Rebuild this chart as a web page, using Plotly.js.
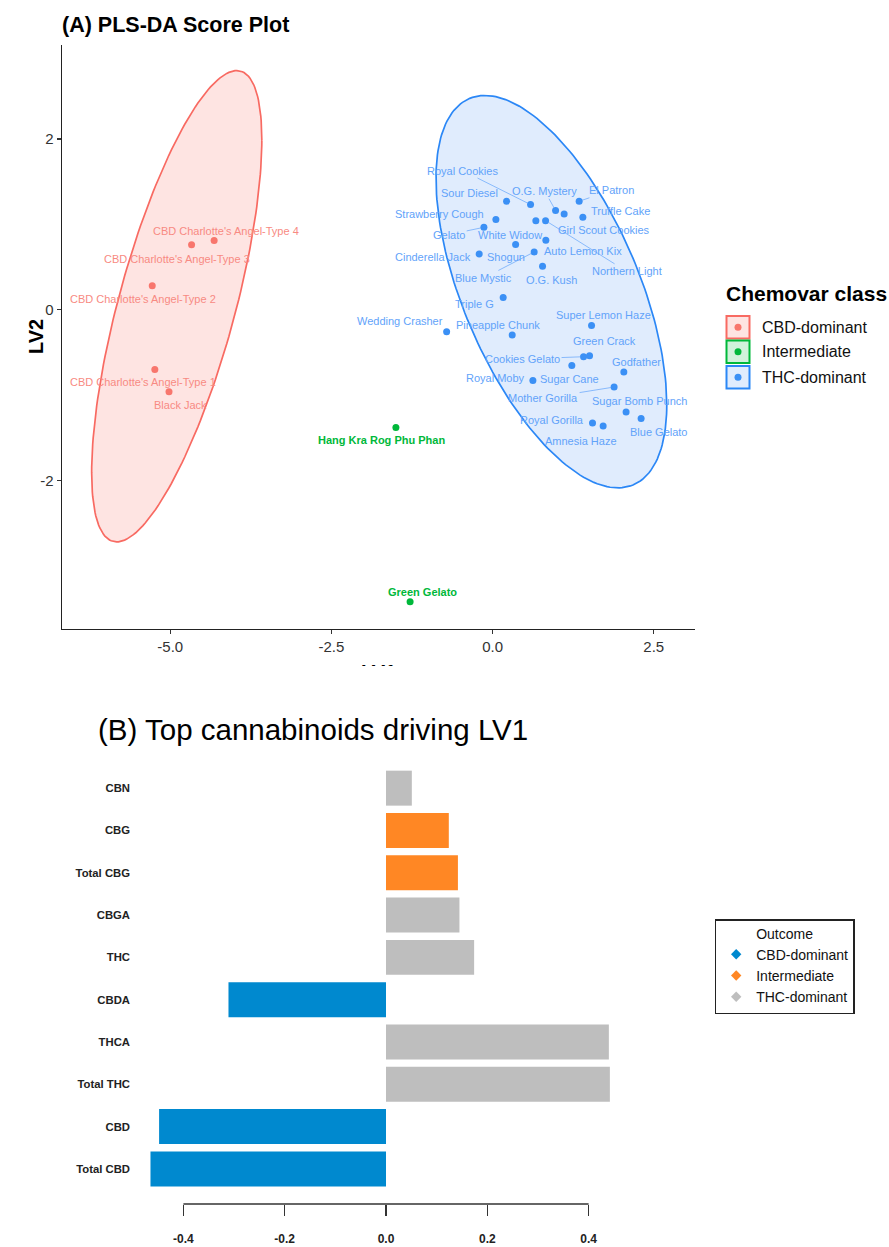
<!DOCTYPE html>
<html>
<head>
<meta charset="utf-8">
<script src="https://cdn.plot.ly/plotly-3.0.1.min.js"></script>
<style>
  html, body { margin: 0; padding: 0; background: #ffffff; }
  #wrap { width: 889px; height: 1247px; position: relative; overflow: hidden; }
  #plotA { width: 889px; height: 666px; position: absolute; left: 0; top: 0; }
  #plotB { width: 889px; height: 581px; position: absolute; left: 0; top: 666px; }
</style>
</head>
<body>
<div id="wrap"><div id="plotA"></div><div id="plotB"></div></div>
<script>
// ---------------- DATA: panel A (PLS-DA scores) ----------------
const sampleNames = [
  "CBD Charlotte's Angel-Type 4", "CBD Charlotte's Angel-Type 3", "CBD Charlotte's Angel-Type 2",
  "CBD Charlotte's Angel-Type 1", "Black Jack",
  "Hang Kra Rog Phu Phan", "Green Gelato",
  "Sour Diesel", "Royal Cookies", "O.G. Mystery", "Girl Scout Cookies", "El Patron", "Truffle Cake",
  "Strawberry Cough", "White Widow", "Northern Light", "Gelato", "Auto Lemon Kix", "Shogun",
  "Cinderella Jack", "Blue Mystic", "O.G. Kush", "Triple G", "Super Lemon Haze", "Wedding Crasher",
  "Pineapple Chunk", "Cookies Gelato", "Green Crack", "Sugar Cane", "Godfather", "Royal Moby",
  "Mother Gorilla", "Sugar Bomb Punch", "Blue Gelato", "Royal Gorilla", "Amnesia Haze"
];
const lv1Scores = [
  -4.32, -4.67, -5.28, -5.24, -5.02,
  -1.50, -1.28,
  0.217, 0.589, 0.977, 1.110, 1.343, 1.400,
  0.051, 0.671, 0.822, -0.135, 0.826, 0.357,
  -0.208, 0.645, 0.775, 0.164, 1.535, -0.713,
  0.304, 1.411, 1.504, 1.229, 2.036, 0.625,
  1.885, 2.071, 2.304, 1.550, 1.715
];
const lv2Scores = [
  0.81, 0.76, 0.28, -0.70, -0.96,
  -1.38, -3.42,
  1.270, 1.231, 1.161, 1.122, 1.270, 1.082,
  1.055, 1.043, 1.043, 0.965, 0.812, 0.762,
  0.653, 0.676, 0.508, 0.144, -0.184, -0.258,
  -0.297, -0.551, -0.539, -0.653, -0.730, -0.829,
  -0.906, -1.199, -1.274, -1.328, -1.363
];
const chemovarClass = [
  "CBD-dominant", "CBD-dominant", "CBD-dominant", "CBD-dominant", "CBD-dominant",
  "Intermediate", "Intermediate",
  "THC-dominant", "THC-dominant", "THC-dominant", "THC-dominant", "THC-dominant", "THC-dominant",
  "THC-dominant", "THC-dominant", "THC-dominant", "THC-dominant", "THC-dominant", "THC-dominant",
  "THC-dominant", "THC-dominant", "THC-dominant", "THC-dominant", "THC-dominant", "THC-dominant",
  "THC-dominant", "THC-dominant", "THC-dominant", "THC-dominant", "THC-dominant", "THC-dominant",
  "THC-dominant", "THC-dominant", "THC-dominant", "THC-dominant", "THC-dominant"
];
const classLevels = ["CBD-dominant", "Intermediate", "THC-dominant"];

// confidence ellipses: centre, spreads, correlation
const ellipseClass = ["CBD-dominant", "THC-dominant"];
const ellipseCx = [-4.90, 0.912];
const ellipseCy = [0.04, 0.211];
const ellipseSx = [1.32, 1.79];
const ellipseSy = [2.76, 2.298];
const ellipseR  = [0.705, -0.576];

const xTickVals = [-5, -2.5, 0, 2.5];
const xTickText = ["-5.0", "-2.5", "0.0", "2.5"];
const yTickVals = [-2, 0, 2];
const yTickText = ["-2", "0", "2"];

// ---------------- DATA: panel B (loadings) ----------------
const cannabinoids = ["Total CBD", "CBD", "Total THC", "THCA", "CBDA", "THC", "CBGA", "Total CBG", "CBG", "CBN"];
const lv1Loadings  = [-0.465, -0.448, 0.442, 0.440, -0.311, 0.174, 0.145, 0.142, 0.124, 0.051];
const outcomeClass = ["CBD-dominant", "CBD-dominant", "THC-dominant", "THC-dominant", "CBD-dominant",
                      "THC-dominant", "THC-dominant", "Intermediate", "Intermediate", "THC-dominant"];
const loadTickVals = [-0.4, -0.2, 0, 0.2, 0.4];
const loadTickText = ["-0.4", "-0.2", "0.0", "0.2", "0.4"];

// ---------------- STYLE ----------------
const FONT = "Liberation Sans, Arial, sans-serif";
const pointColor = {"CBD-dominant": "#F8766D", "Intermediate": "#00B83A", "THC-dominant": "#3B90F5"};
const labelColor = {"CBD-dominant": "#F88A82", "Intermediate": "#00B83A", "THC-dominant": "#62A3FA"};
const ellLine = {"CBD-dominant": "#F86A62", "THC-dominant": "#2B87F6"};
const ellFill = {"CBD-dominant": "rgba(248,118,109,0.20)", "THC-dominant": "rgba(70,145,245,0.17)"};
const legFill = {"CBD-dominant": "rgba(248,118,109,0.20)", "Intermediate": "rgba(0,184,58,0.18)", "THC-dominant": "rgba(70,145,245,0.17)"};
const barColor = {"CBD-dominant": "#0089CF", "Intermediate": "#FF8724", "THC-dominant": "#BEBEBE"};

// label offsets in pixels (text centre relative to point) and leader flag
const labelDx = [11.7, -14.6, -9, -11.4, 11.3,
  -14.3, 12.7,
  -36.7, -68, -10.7, 39.7, 32.4, 38,
  -56.7, -26, 81, -34.7, 37.3, -10,
  -46, -50.3, 9, -28.3, 12.3, -46.7,
  -14, -61, 15.3, -2, 12.7, -37.3,
  -71, 13.7, 17, -41, -22.3];
const labelDy = [-10, 14, 13, 12.7, 13,
  12.6, -10,
  -8.4, -34, -19.3, 16.4, -11, -6.7,
  -5.7, 14, 50.7, 7.3, 11, 12.7,
  3.4, 26, 13.3, 6.6, -10.7, -10.3,
  -10.3, 2.3, -14.3, 13.6, -10.3, -2,
  11.4, -11.3, 13.3, -2.6, 15.4];
const leaderNames = ["Royal Cookies", "O.G. Mystery", "El Patron", "Northern Light", "Gelato",
                     "Blue Mystic", "Cookies Gelato", "Mother Gorilla"];

// ---------------- PANEL A ----------------
const A = {l: 62, t: 45, w: 633, h: 584};
const pxA = x => (x - A.l) / A.w;
const pyA = y => (A.t + A.h - y) / A.h;

const tracesA = [];
ellipseClass.forEach((cls, i) => {
  const ex = [], ey = [];
  const s = Math.sqrt(1 - ellipseR[i] * ellipseR[i]);
  for (let k = 0; k <= 200; k++) {
    const t = 2 * Math.PI * k / 200;
    ex.push(ellipseCx[i] + ellipseSx[i] * Math.cos(t));
    ey.push(ellipseCy[i] + ellipseSy[i] * (ellipseR[i] * Math.cos(t) + s * Math.sin(t)));
  }
  tracesA.push({type: "scatter", mode: "lines", x: ex, y: ey, fill: "toself",
    fillcolor: ellFill[cls], line: {color: ellLine[cls], width: 1.7}, hoverinfo: "skip", showlegend: false});
});
classLevels.forEach(cls => {
  const idx = chemovarClass.map((c, i) => c === cls ? i : -1).filter(i => i >= 0);
  tracesA.push({type: "scatter", mode: "markers", name: cls,
    x: idx.map(i => lv1Scores[i]), y: idx.map(i => lv2Scores[i]), text: idx.map(i => sampleNames[i]),
    marker: {color: pointColor[cls], size: 7}, showlegend: false});
});

const annA = sampleNames.map((nm, i) => {
  const cls = chemovarClass[i];
  const lead = leaderNames.includes(nm);
  return {x: lv1Scores[i], y: lv2Scores[i], xref: "x", yref: "y", text: nm,
    showarrow: true, arrowhead: 0, arrowwidth: 0.7, standoff: 3,
    arrowcolor: lead ? labelColor[cls] : "rgba(0,0,0,0)",
    ax: labelDx[i], ay: labelDy[i],
    font: {family: FONT, size: 11, color: labelColor[cls],
           weight: cls === "Intermediate" ? "bold" : "normal"}};
});
// axis titles
annA.push({xref: "paper", yref: "paper", x: pxA(23), y: pyA(337), text: "<b>LV2</b>", showarrow: false,
  textangle: -90, font: {family: FONT, size: 20, color: "#000"}});
annA.push({xref: "paper", yref: "paper", x: pxA(378.5), y: pyA(659), yanchor: "top", text: "<b>LV1</b>",
  showarrow: false, font: {family: FONT, size: 20, color: "#000"}});
// legend A (manual, ggplot-style keys)
annA.push({xref: "paper", yref: "paper", x: pxA(724), y: pyA(293), xanchor: "left", yanchor: "middle",
  text: "<b>Chemovar class</b>", showarrow: false, font: {family: FONT, size: 21, color: "#000"}});
const shapesA = [];
const legRows = [327.3, 351.7, 377.3];
classLevels.forEach((cls, i) => {
  const yc = legRows[i];
  shapesA.push({type: "rect", xref: "paper", yref: "paper", x0: pxA(726.5), x1: pxA(749.5),
    y0: pyA(yc - 11.3), y1: pyA(yc + 11.3), line: {color: ellLine[cls] || pointColor[cls], width: 2},
    fillcolor: legFill[cls]});
  shapesA.push({type: "circle", xref: "paper", yref: "paper", x0: pxA(734.5), x1: pxA(741.5),
    y0: pyA(yc - 3.5), y1: pyA(yc + 3.5), line: {width: 0}, fillcolor: pointColor[cls]});
  annA.push({xref: "paper", yref: "paper", x: pxA(760), y: pyA(yc), xanchor: "left", yanchor: "middle",
    text: cls, showarrow: false, font: {family: FONT, size: 16, color: "#111"}});
});

const layoutA = {
  width: 889, height: 666, paper_bgcolor: "#ffffff", plot_bgcolor: "#ffffff",
  margin: {l: A.l, r: 889 - A.l - A.w, t: A.t, b: 666 - A.t - A.h},
  font: {family: FONT},
  title: {text: "<b>(A) PLS-DA Score Plot</b>", x: 62 / 889, xanchor: "left", y: 1 - 24 / 666, yanchor: "middle",
          font: {family: FONT, size: 21.5, color: "#000"}},
  xaxis: {range: [-6.68, 3.14], showgrid: false, zeroline: false, showline: true, linecolor: "#222", linewidth: 1.3,
          ticks: "outside", ticklen: 4, tickcolor: "#333", tickwidth: 1.2, tickvals: xTickVals, ticktext: xTickText,
          tickfont: {family: FONT, size: 15, color: "#333"}},
  yaxis: {range: [-3.74, 3.10], showgrid: false, zeroline: false, showline: true, linecolor: "#222", linewidth: 1.3,
          ticks: "outside", ticklen: 4, tickcolor: "#333", tickwidth: 1.2, tickvals: yTickVals, ticktext: yTickText,
          tickfont: {family: FONT, size: 15, color: "#333"}},
  showlegend: false,
  annotations: annA,
  shapes: shapesA
};
Plotly.newPlot("plotA", tracesA, layoutA, {displayModeBar: false, staticPlot: true});

// ---------------- PANEL B ----------------
const B = {l: 131, r: 650, t: 100.7, b: 538, H: 581};
const zeroPx = 386, pxPerUnit = 506.5;
const tracesB = [{
  type: "bar", orientation: "h", x: lv1Loadings, y: cannabinoids,
  marker: {color: outcomeClass.map(c => barColor[c]), line: {width: 0}},
  showlegend: false, hoverinfo: "x+y"
}];
classLevels.forEach(cls => {
  tracesB.push({type: "scatter", mode: "markers", x: [null], y: [null], name: cls,
    marker: {symbol: "diamond", size: 8, color: barColor[cls]}, showlegend: true});
});

const layoutB = {
  width: 889, height: 581, paper_bgcolor: "#ffffff", plot_bgcolor: "#ffffff",
  margin: {l: B.l, r: 889 - B.r, t: B.t, b: B.H - B.b},
  font: {family: FONT},
  bargap: 0.173,
  title: {text: "(B) Top cannabinoids driving LV1", x: 98 / 889, xanchor: "left", y: 1 - 64 / 581, yanchor: "middle",
          font: {family: FONT, size: 29.5, color: "#000"}},
  xaxis: {range: [(B.l - zeroPx) / pxPerUnit, (B.r - zeroPx) / pxPerUnit], showgrid: false, zeroline: false,
          showline: false, ticks: "outside", ticklen: 11, tickwidth: 1.5, tickcolor: "#333",
          tickvals: loadTickVals, ticktext: loadTickText, ticklabelstandoff: 13,
          tickfont: {family: FONT, size: 12, color: "#222", weight: "bold"}},
  yaxis: {type: "category", categoryorder: "array", categoryarray: cannabinoids, range: [-0.83, 9.5],
          showgrid: false, zeroline: false, showline: false, ticks: "",
          tickfont: {family: FONT, size: 11.3, color: "#222", weight: "bold"}},
  showlegend: true,
  legend: {xref: "container", yref: "container", x: 714.7 / 889, y: 1 - 253 / 581, xanchor: "left", yanchor: "top",
           bordercolor: "#222", borderwidth: 1.5, bgcolor: "#ffffff", itemwidth: 30, tracegroupgap: 0,
           title: {text: "Outcome", side: "top center", font: {family: FONT, size: 14, color: "#111"}},
           font: {family: FONT, size: 14, color: "#111"}},
  shapes: [{type: "line", xref: "x", yref: "paper", x0: loadTickVals[0], x1: loadTickVals[loadTickVals.length - 1],
            y0: 0, y1: 0, line: {color: "#333", width: 1.5}}]
};
Plotly.newPlot("plotB", tracesB, layoutB, {displayModeBar: false, staticPlot: true});
</script>
</body>
</html>
